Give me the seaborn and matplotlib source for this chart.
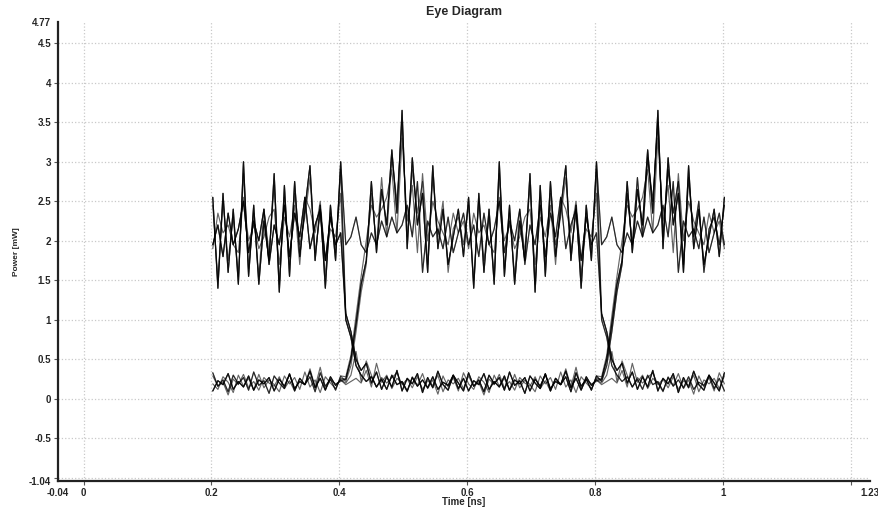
import numpy as np
import pandas as pd
import matplotlib
matplotlib.use("Agg")
import matplotlib.pyplot as plt
import seaborn as sns

# ---- data (mW vs ns) ----
# one bit = 0.4 ns, sampled every 0.008 ns -> 50 samples per bit
SAMPLE_STEP_NS = 0.008
SAMPLES_PER_BIT = 50
WINDOW_START_NS = 0.202
WINDOW_SAMPLES = 101

# "1" bit after a rising edge (overshoot right after the edge)
one_rise_a = [0.25, 0.50, 0.95, 1.45, 1.75, 2.75, 1.85, 2.65, 2.20, 3.15,
              2.35, 3.65, 1.90, 3.05, 2.20, 2.60, 1.60, 2.95, 1.90, 2.40,
              1.70, 2.05, 2.40, 1.80, 2.55, 1.40, 2.60, 1.60, 2.40, 1.45,
              3.00, 1.55, 2.45, 1.45, 2.25, 1.75, 2.85, 1.35, 2.70, 1.55,
              2.75, 1.80, 2.40, 2.95, 1.75, 2.45, 1.40, 2.45, 1.75, 3.00]
one_rise_b = [0.22, 0.42, 0.85, 1.35, 1.70, 2.60, 1.95, 2.80, 2.05, 3.05,
              2.50, 3.50, 2.05, 2.90, 2.35, 2.75, 1.70, 2.80, 2.05, 2.50,
              1.60, 2.15, 2.30, 1.95, 2.45, 1.50, 2.50, 1.75, 2.30, 1.55,
              2.85, 1.65, 2.35, 1.55, 2.40, 1.85, 2.70, 1.45, 2.55, 1.70,
              2.60, 1.95, 2.30, 2.80, 1.85, 2.35, 1.55, 2.35, 1.85, 2.90]
one_rise_c = [0.28, 0.55, 1.05, 1.55, 2.00, 2.45, 2.30, 2.40, 2.55, 2.90,
              2.10, 3.30, 2.25, 2.70, 1.85, 2.85, 2.00, 2.50, 2.25, 2.10,
              1.95, 2.35, 2.10, 2.25, 1.90, 2.35, 2.10, 2.20, 1.95, 1.85,
              2.55, 2.00, 2.20, 1.90, 2.05, 2.30, 2.40, 1.70, 2.30, 2.05,
              2.45, 1.70, 2.55, 2.40, 2.10, 2.50, 1.75, 2.15, 2.05, 2.60]
# "1" bit after a "1" bit (no edge)
one_hold = [1.95, 2.05, 2.30, 1.95, 1.85, 2.10, 1.95, 2.25, 2.05, 2.30,
            2.10, 2.20, 2.45, 2.05, 2.75, 1.60, 2.25, 2.05, 2.15, 1.90,
            2.30, 1.85, 2.10, 2.35, 1.95, 2.20, 1.80, 2.35, 1.95, 2.15,
            2.50, 1.85, 2.25, 2.00, 2.40, 1.70, 2.20, 1.95, 2.45, 1.80,
            2.35, 2.05, 2.55, 1.90, 2.20, 2.40, 1.75, 2.30, 1.95, 2.10]
# "0" bit after a falling edge
zero_fall_a = [1.00, 0.78, 0.42, 0.30, 0.22, 0.28, 0.15, 0.25, 0.12, 0.30,
               0.18, 0.22, 0.10, 0.27, 0.16, 0.24, 0.14, 0.28, 0.12, 0.21,
               0.17, 0.30, 0.13, 0.26, 0.10, 0.23, 0.18, 0.32, 0.12, 0.22,
               0.15, 0.29, 0.11, 0.24, 0.19, 0.27, 0.10, 0.25, 0.16, 0.31,
               0.13, 0.22, 0.18, 0.35, 0.14, 0.26, 0.11, 0.28, 0.17, 0.24]
zero_fall_b = [1.08, 0.85, 0.50, 0.36, 0.45, 0.20, 0.34, 0.12, 0.28, 0.15,
               0.36, 0.10, 0.26, 0.19, 0.32, 0.08, 0.27, 0.14, 0.35, 0.18,
               0.11, 0.30, 0.20, 0.10, 0.33, 0.16, 0.24, 0.09, 0.30, 0.19,
               0.27, 0.11, 0.34, 0.17, 0.23, 0.07, 0.29, 0.20, 0.13, 0.32,
               0.10, 0.26, 0.18, 0.28, 0.09, 0.33, 0.16, 0.25, 0.11, 0.29]
# "0" bit after a "0" bit
zero_hold_a = [0.20, 0.30, 0.60, 0.22, 0.48, 0.30, 0.15, 0.27, 0.20, 0.27,
               0.33, 0.18, 0.25, 0.14, 0.28, 0.12, 0.23, 0.17, 0.30, 0.09,
               0.24, 0.19, 0.26, 0.13, 0.29, 0.16, 0.21, 0.05, 0.25, 0.18,
               0.31, 0.14, 0.22, 0.11, 0.27, 0.20, 0.16, 0.28, 0.13, 0.23,
               0.10, 0.26, 0.18, 0.38, 0.15, 0.40, 0.12, 0.24, 0.19, 0.22]
zero_hold_b = [0.18, 0.22, 0.26, 0.20, 0.36, 0.15, 0.45, 0.21, 0.30, 0.13,
               0.26, 0.20, 0.09, 0.28, 0.17, 0.32, 0.13, 0.24, 0.06, 0.29,
               0.15, 0.27, 0.10, 0.33, 0.19, 0.12, 0.28, 0.21, 0.08, 0.30,
               0.16, 0.26, 0.11, 0.31, 0.14, 0.24, 0.18, 0.09, 0.29, 0.19,
               0.27, 0.12, 0.34, 0.15, 0.24, 0.08, 0.28, 0.20, 0.13, 0.26]

# transmitted bit stream that is folded into the eye
bits = [1, 0, 1, 1, 0, 1, 0, 0, 1, 0, 1, 0, 0, 1, 1, 0, 1]

# gridline ticks, and the axis-end values that are only labelled
x_grid = [0, 0.2, 0.4, 0.6, 0.8, 1, 1.2]
x_grid_labels = ["0", "0.2", "0.4", "0.6", "0.8", "1", ""]
x_ends = [-0.04, 1.23]
y_grid = [-1, -0.5, 0, 0.5, 1, 1.5, 2, 2.5, 3, 3.5, 4, 4.5]
y_grid_labels = ["", "-0.5", "0", "0.5", "1", "1.5", "2", "2.5", "3", "3.5",
                 "4", "4.5"]
y_ends = [-1.04, 4.77]

# =======================
# build the long signal, then cut it into 2-bit windows
# =======================
shapes = {
    (0, 1): [one_rise_a, one_rise_b, one_rise_a, one_rise_c],
    (1, 1): [one_hold],
    (1, 0): [zero_fall_a, zero_fall_b],
    (0, 0): [zero_hold_a, zero_hold_b],
}
used = {k: 0 for k in shapes}
signal = []
prev = bits[0]
for b in bits:
    key = (prev, b)
    variants = shapes[key]
    signal += variants[used[key] % len(variants)]
    used[key] += 1
    prev = b
signal = np.array(signal)

time_ns = np.round(WINDOW_START_NS + SAMPLE_STEP_NS * np.arange(WINDOW_SAMPLES), 4)
frames = []
for j in range(len(bits) - 2):
    start = j * SAMPLES_PER_BIT + 24
    frames.append(pd.DataFrame({
        "time": time_ns,
        "power": signal[start:start + WINDOW_SAMPLES],
        "trace": j,
    }))
df = pd.concat(frames, ignore_index=True)

# =======================
# plot
# =======================
sns.set_style("white")
plt.rcParams["font.family"] = ["Liberation Sans", "DejaVu Sans"]

fig = plt.figure(figsize=(8.79, 5.08), dpi=100)
ax = fig.add_axes([0.066, 0.053, 0.924, 0.904])

sns.lineplot(data=df, x="time", y="power", units="trace", estimator=None,
             color="black", linewidth=0.85, alpha=0.6, ax=ax)

ax.set_xlim(-0.04, 1.23)
ax.set_ylim(-1.04, 4.77)

ax.set_xticks(x_grid)
ax.set_xticklabels(x_grid_labels)
ax.set_yticks(y_grid)
ax.set_yticklabels(y_grid_labels)
ax.set_xticks(x_ends, minor=True)
ax.set_xticklabels([f"{v:g}" for v in x_ends], minor=True)
ax.set_yticks(y_ends, minor=True)
ax.set_yticklabels([f"{v:g}" for v in y_ends], minor=True)

ax.grid(True, which="major", color="#c9c9c9", linestyle=":", linewidth=0.9)
ax.grid(False, which="minor")
ax.tick_params(which="major", length=3, width=0.8, direction="out",
               color="#555555", labelsize=7, pad=2,
               left=True, bottom=True)
ax.tick_params(which="minor", length=0, labelsize=7, pad=5,
               left=True, bottom=True)
for lab in (ax.get_xticklabels() + ax.get_yticklabels()
            + ax.get_xticklabels(minor=True) + ax.get_yticklabels(minor=True)):
    lab.set_fontweight("bold")

for side in ["top", "right"]:
    ax.spines[side].set_visible(False)
for side in ["left", "bottom"]:
    ax.spines[side].set_color("#222222")
    ax.spines[side].set_linewidth(1.6)

ax.set_title("Eye Diagram", fontsize=9, fontweight="bold", pad=5)
ax.set_xlabel("Time [ns]", fontsize=7, fontweight="bold", labelpad=-1)
ax.set_ylabel("Power [mW]", fontsize=6, fontweight="bold", labelpad=6)

fig.savefig("out.png", dpi=100)
